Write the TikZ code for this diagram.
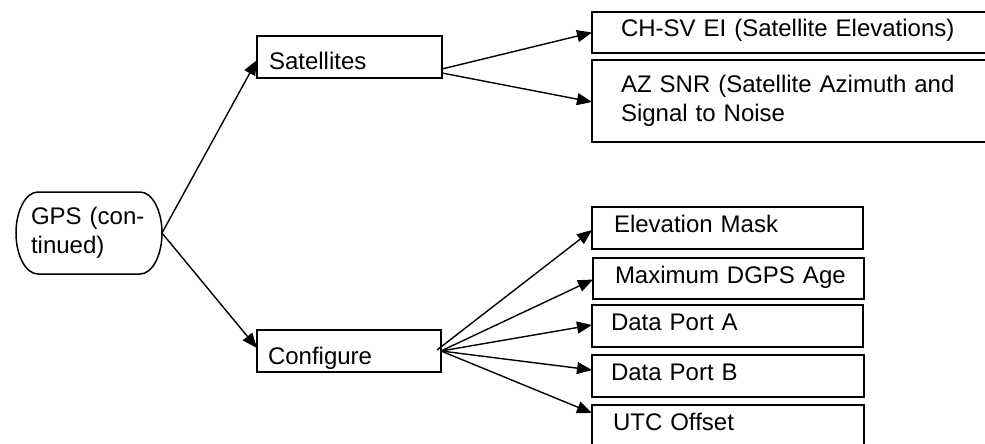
\documentclass[tikz,border=0pt]{standalone}
\usepackage{fontspec}
\setmainfont{Liberation Sans}
\usetikzlibrary{arrows.meta}
\begin{document}
\begin{tikzpicture}[x=1pt,y=-1pt,
  every node/.style={font=\fontsize{24}{28.8}\selectfont, outer sep=0pt},
  box/.style={draw, line width=2pt, rectangle, anchor=north west, inner ysep=0pt, align=left},
  leftbox/.style={box, text height=26pt, text depth=0pt},
  rightbox/.style={box, text height=17pt, text depth=8pt},
  conn/.style={line width=1.4pt, -{Triangle[length=15pt,width=12pt]}}]
\useasboundingbox (0,0) rectangle (985,444);
\clip (0,0) rectangle (985,444);
% root
\node[anchor=north west, minimum width=146pt, minimum height=82pt,
      inner xsep=15pt, inner ysep=0pt, text width=116pt, align=left] (gps) at (16,192) {GPS (con-\\tinued)};
\draw[line width=1.5pt] (38,192) -- (140,192) .. controls (152.15,192) and (162,210.4) .. (162,233)
   .. controls (162,255.6) and (152.15,274) .. (140,274) -- (38,274)
   .. controls (25.85,274) and (16,255.6) .. (16,233)
   .. controls (16,210.4) and (25.85,192) .. (38,192) -- cycle;
% second level
\node[leftbox, inner xsep=12pt, text width=161pt, minimum height=42pt] (sat) at (257,36) {\mbox{Satellites}};
\node[leftbox, inner xsep=11pt, text width=162pt, minimum height=42pt] (conf) at (257,330) {\mbox{Configure}};
% third level
\node[rightbox, inner xsep=29pt, text width=352pt, minimum height=41pt] (ch) at (592,12) {\mbox{CH-SV EI (Satellite Elevations)}};
\node[box, inner xsep=29pt, text width=352pt, minimum height=82pt] (az) at (592,60) {AZ SNR (Satellite Azimuth and\\Signal to Noise};
\node[rightbox, inner xsep=22pt, text width=227pt, minimum height=42pt] (elev) at (592,207) {\mbox{Elevation Mask}};
\node[rightbox, inner xsep=22pt, text width=227pt, minimum height=41pt] (maxd) at (593,258) {\mbox{Maximum DGPS Age}};
\node[rightbox, inner xsep=19pt, text width=233pt, minimum height=42pt] (pa) at (592,305) {\mbox{Data Port A}};
\node[rightbox, inner xsep=19pt, text width=234pt, minimum height=42pt] (pb) at (592,355) {\mbox{Data Port B}};
\node[rightbox, inner xsep=21pt, text width=230pt, minimum height=42pt] (utc) at (592,405) {\mbox{UTC Offset}};
% connectors
\draw[conn] (gps.east) -- ([yshift=-3pt]sat.west);
\draw[conn] (gps.east) -- ([yshift=3pt]conf.west);
\draw[conn] ([yshift=-12pt]sat.east) -- (ch.west);
\draw[conn] ([yshift=-16pt]sat.east) -- ([yshift=-1pt]az.west);
\draw[conn] ([xshift=-4pt,yshift=1pt]conf.east) -- ([yshift=-2pt]elev.west);
\draw[conn] (conf.east) -- ([yshift=-1pt]maxd.west);
\draw[conn] (conf.east) -- ([yshift=1pt]pa.west);
\draw[conn] (conf.east) -- ([yshift=6pt]pb.west);
\draw[conn] (conf.east) -- ([yshift=13pt]utc.west);
\end{tikzpicture}
\end{document}
